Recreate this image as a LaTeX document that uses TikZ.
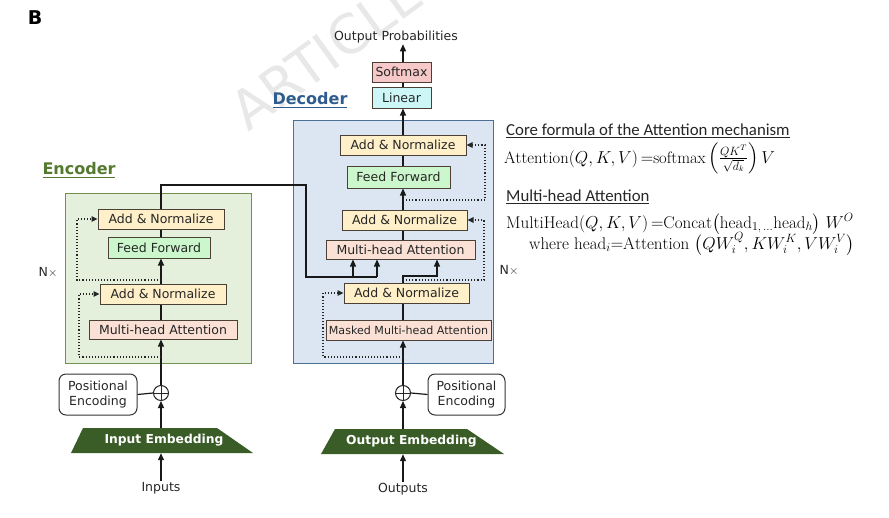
\documentclass[tikz,border=0pt]{standalone}
\usepackage{fontspec}
\usepackage{amsmath}
\newfontfamily\boxfont{DejaVu Sans}
\newfontfamily\headfont{Carlito}
\usetikzlibrary{arrows.meta,calc}
\definecolor{encfill}{HTML}{E4EFDC}
\definecolor{encdraw}{HTML}{6F8F55}
\definecolor{decfill}{HTML}{DCE6F2}
\definecolor{decdraw}{HTML}{4C6F98}
\definecolor{anfill}{HTML}{FFF0C9}
\definecolor{fffill}{HTML}{CCF7CC}
\definecolor{mhfill}{HTML}{FBE1D5}
\definecolor{smfill}{HTML}{F6C8C8}
\definecolor{linfill}{HTML}{CDF6F6}
\definecolor{embfill}{HTML}{3A5C27}
\definecolor{enctext}{HTML}{55792F}
\definecolor{dectext}{HTML}{2E5C8E}
\definecolor{bordc}{HTML}{4A4036}
\begin{document}
\begin{tikzpicture}[x=1pt,y=-1pt,
  blk/.style={draw=bordc, line width=1pt, inner sep=0pt, text=black!85,
    font=\boxfont\fontsize{12.5}{14}\selectfont},
  anbox/.style={blk, fill=anfill, minimum height=20pt},
  ffbox/.style={blk, fill=fffill, minimum height=21pt},
  mhbox/.style={blk, fill=mhfill, minimum height=20pt},
  pebox/.style={draw=black!80, line width=1pt, rounded corners=7pt, inner sep=0pt,
    minimum width=78pt, minimum height=41pt, align=center, text=black!85,
    font=\boxfont\fontsize{12.5}{15}\selectfont},
  plus/.style={circle, draw=black!85, line width=1pt, minimum size=15pt, inner sep=0pt},
  embtext/.style={text=white, inner sep=0pt, minimum height=25pt,
    font=\boxfont\bfseries\fontsize{12.3}{14}\selectfont},
  lbl/.style={text=black!85, inner sep=1pt, font=\boxfont\fontsize{12.5}{14}\selectfont},
  head/.style={anchor=base west, inner sep=0pt, text=black!85, font=\headfont\fontsize{16.8}{18}\selectfont},
  frm/.style={anchor=base west, inner sep=0pt, text=black, font=\fontsize{17}{20}\selectfont},
  ln/.style={line width=1.2pt, draw=black!90},
  arr/.style={ln, -{Triangle[length=7pt,width=6pt]}},
  res/.style={line width=1.1pt, draw=black!85, dotted, -{Triangle[length=6pt,width=5.5pt]}}
]
\useasboundingbox (0,0) rectangle (889,517);
% watermark
\node[font=\boxfont\fontsize{54}{60}\selectfont, text=black!9, rotate=36] (wm) at (326,52) {ARTICLE};
\node[font=\boxfont\bfseries\fontsize{19}{20}\selectfont, text=black] (lblB) at (35,18) {B};

% containers
\node[draw=encdraw, fill=encfill, line width=1pt, minimum width=186pt, minimum height=170pt, inner sep=0pt] (enc) at (158,278) {};
\node[draw=decdraw, fill=decfill, line width=1pt, minimum width=200pt, minimum height=243pt, inner sep=0pt] (dec) at (393,241.5) {};
\node[text=enctext, font=\boxfont\bfseries\fontsize{16}{18}\selectfont] (enclbl) at (79,170) {\underline{Encoder}};
\node[text=dectext, font=\boxfont\bfseries\fontsize{16}{18}\selectfont] (declbl) at (310,100) {\underline{Decoder}};

% encoder blocks
\coordinate (ex) at (161,0);
\node[anbox, minimum width=126pt] (eAN1) at (161,219) {Add \& Normalize};
\node[ffbox, minimum width=102pt] (eFF) at (159,247.5) {Feed Forward};
\node[anbox, minimum width=126pt] (eAN2) at (163,294) {Add \& Normalize};
\node[mhbox, minimum width=148pt, minimum height=19pt] (eMHA) at (163,329.5) {Multi-head Attention};
\node[plus] (eplus) at (161,393) {};
\draw[line width=1pt, black!85] (eplus.north) -- (eplus.south) (eplus.west) -- (eplus.east);
\node[pebox] (ePE) at (98,394.5) {Positional\\Encoding};
\fill[embfill] (83,428) -- (217,428) -- (253,453) -- (71,453) -- cycle;
\node[embtext] (eEmb) at (164,440.5) {Input Embedding};
\node[lbl] (inp) at (161,488) {Inputs};
\node[lbl] (encN) at (48,272) {N$\times$};

% decoder blocks
\coordinate (dx) at (403,0);
\node[anbox, minimum width=126pt] (dAN1) at (403,145) {Add \& Normalize};
\node[ffbox, minimum width=103pt, minimum height=22pt] (dFF) at (398.5,177) {Feed Forward};
\node[anbox, minimum width=125pt] (dAN2) at (404.5,220) {Add \& Normalize};
\node[mhbox, minimum width=149pt, minimum height=19pt] (dMHA) at (400.5,249.5) {Multi-head Attention};
\node[anbox, minimum width=125pt] (dAN3) at (406.5,293) {Add \& Normalize};
\node[mhbox, minimum width=165pt, font=\boxfont\fontsize{11.1}{13}\selectfont] (dMMHA) at (408.5,330) {Masked Multi-head Attention};
\node[blk, fill=linfill, minimum width=59pt, minimum height=21pt] (lin) at (401.5,97.5) {Linear};
\node[blk, fill=smfill, minimum width=59pt, minimum height=20pt] (smax) at (401.5,72) {Softmax};
\node[lbl] (oprob) at (396,37) {Output Probabilities};
\node[plus] (dplus) at (403,393) {};
\draw[line width=1pt, black!85] (dplus.north) -- (dplus.south) (dplus.west) -- (dplus.east);
\node[pebox, minimum width=77pt] (dPE) at (466.5,394.5) {Positional\\Encoding};
\fill[embfill] (335,429) -- (467,429) -- (504,454) -- (321,454) -- cycle;
\node[embtext] (dEmb) at (411.5,441.5) {Output Embedding};
\node[lbl] (outp) at (403,489) {Outputs};
\node[lbl] (decN) at (509,270) {N$\times$};

% encoder connectors
\draw[arr] (inp.north) -- (inp.north |- eEmb.south);
\draw[arr] (eEmb.north -| eplus) -- (eplus.south);
\draw[ln] (ePE.east) -- (eplus.west);
\draw[arr] (eplus.north) -- (eplus.north |- eMHA.south);
\draw[ln] (eMHA.north -| ex) -- (eAN2.south -| ex);
\draw[arr] (eAN2.north -| ex) -- (eFF.south -| ex);
\draw[ln] (eFF.north -| ex) -- (eAN1.south -| ex);
\coordinate (eTop) at (161,185);
\coordinate (xR) at (306,277);
\coordinate (k1) at (353,277);
\coordinate (k2) at (377,277);
\draw[ln] (eAN1.north -| ex) -- (eTop) -| (xR) -- (k2);
\draw[arr] (k1) -- (k1 |- dMHA.south);
\draw[arr] (k2) -- (k2 |- dMHA.south);
\coordinate (er1) at (161,357);
\coordinate (er2) at (161,280);
\draw[res] (er1) -- ++(-82,0) |- (eAN2.west);
\draw[res] (er2) -- ++(-84,0) |- (eAN1.west);

% decoder connectors
\draw[arr] (outp.north) -- (outp.north |- dEmb.south);
\draw[arr] (dEmb.north -| dplus) -- (dplus.south);
\draw[ln] (dPE.west) -- (dplus.east);
\draw[arr] (dplus.north) -- (dplus.north |- dMMHA.south);
\draw[ln] (dMMHA.north -| dx) -- (dAN3.south -| dx);
\coordinate (q) at (437,276);
\draw[arr] (dAN3.north -| dx) |- (q) -- (q |- dMHA.south);
\coordinate (dr0) at (403,357);
\coordinate (dr1) at (403,280);
\coordinate (dr2) at (403,200);
\draw[res] (dr0) -- ++(-80,0) |- (dAN3.west);
\draw[res] (dr1) -- ++(81,0) |- (dAN2.east);
\draw[ln] (dMHA.north -| dx) -- (dAN2.south -| dx);
\draw[arr] (dAN2.north -| dx) -- (dFF.south -| dx);
\draw[res] (dr2) -- ++(82,0) |- (dAN1.east);
\draw[ln] (dFF.north -| dx) -- (dAN1.south -| dx);
\draw[arr] (dAN1.north -| dx) -- (dx |- lin.south);
\draw[ln] (lin.north -| dx) -- (dx |- smax.south);
\draw[arr] (smax.north -| dx) -- (dx |- oprob.south);

% formulas
\node[head] (h1) at (506,135) {\underline{Core formula of the Attention mechanism}};
\node[frm, font=\fontsize{16.6}{20}\selectfont] (f1) at (504,163) {$\mathrm{Attention}(Q,K,V)\,{=}\mathrm{softmax}\left(\frac{QK^{T}}{\sqrt{d_k}}\right)V$};
\node[head] (h2) at (506,201) {\underline{Multi-head Attention}};
\node[frm] (f2) at (506,228) {$\mathrm{MultiHead}(Q,K,V)\,{=}\mathrm{Concat}\bigl(\mathrm{head}_{1,\,\ldots}\mathrm{head}_{h}\bigr)\;W^{O}$};
\node[frm] (f3) at (529,249) {$\mathrm{where}\ \mathrm{head}_{i}{=}\mathrm{Attention}\ \bigl(QW_{i}^{Q},KW_{i}^{K},VW_{i}^{V}\bigr)$};
\end{tikzpicture}
\end{document}
